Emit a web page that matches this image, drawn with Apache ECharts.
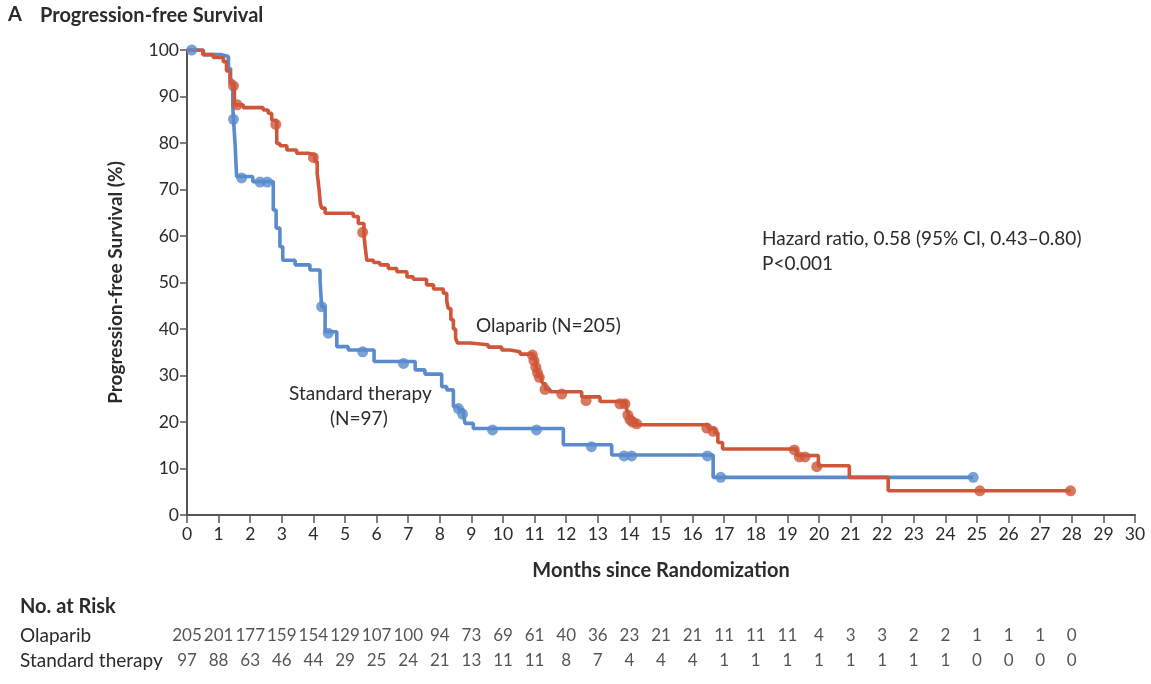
<!DOCTYPE html>
<html>
<head>
<meta charset="utf-8">
<title>Progression-free Survival</title>
<script src="https://cdn.jsdelivr.net/npm/echarts@6/dist/echarts.min.js"></script>
<style>
  html, body { margin: 0; padding: 0; background: #fff; }
  #chart { width: 1151px; height: 684px; }
</style>
</head>
<body>
<div id="chart"></div>
<script>
// 曲线数据: [月份, 生存率%], 每个点是该时间下降后的值
const olaparibSteps = [
  [0, 100], [0.5, 99.0], [0.83, 98.4], [1.15, 97.5], [1.25, 95.5], [1.36, 92.8],
  [1.5, 88.2], [1.78, 87.6], [2.41, 87.1], [2.57, 86.4], [2.68, 84.9], [2.84, 79.9],
  [2.94, 79.4], [3.16, 78.5], [3.47, 77.8], [3.84, 77.4], [4.05, 76.0], [4.12, 73.5],
  [4.18, 70.0], [4.22, 67.0], [4.26, 66.0], [4.37, 64.9], [5.26, 64.2], [5.42, 62.7],
  [5.6, 60.0], [5.65, 57.0], [5.69, 54.8], [5.9, 54.3], [6.1, 53.8], [6.37, 53.0],
  [6.64, 52.3], [6.96, 51.2], [7.16, 50.7], [7.58, 49.5], [7.8, 48.6], [8.11, 47.7],
  [8.22, 46.0], [8.27, 44.4], [8.35, 42.0], [8.43, 40.0], [8.5, 38.0], [8.56, 37.0],
  [8.96, 36.6], [9.53, 36.1], [9.96, 35.5], [10.22, 35.1], [10.54, 34.6], [10.97, 33.5],
  [11.04, 32.0], [11.09, 30.8], [11.15, 29.8], [11.22, 28.8], [11.27, 28.2], [11.35, 27.0],
  [11.49, 26.5], [12.49, 25.4], [13.07, 24.4], [13.9, 23.0], [13.95, 22.0], [14.0, 21.0],
  [14.1, 20.3], [14.23, 19.4], [16.5, 18.6], [16.7, 17.7], [16.8, 15.6], [16.95, 14.2],
  [19.29, 12.8], [19.98, 10.6], [20.96, 8.1], [22.19, 5.2], [27.96, 5.2]
];
const olaparibCensor = [
  [1.47, 92.3], [1.59, 88.2], [2.81, 84.0], [4.0, 76.9], [5.56, 60.8], [10.93, 34.4],
  [10.98, 33.2], [11.04, 31.8], [11.09, 30.6], [11.15, 29.6], [11.33, 27.0], [11.86, 26.0],
  [12.63, 24.6], [13.7, 23.9], [13.86, 23.9], [13.95, 21.5], [14.02, 20.5], [14.1, 20.0],
  [14.23, 19.6], [16.45, 18.7], [16.65, 18.0], [19.22, 14.0], [19.38, 12.5], [19.56, 12.5],
  [19.93, 10.4], [25.09, 5.2], [27.96, 5.2]
];
const standardSteps = [
  [0, 100], [0.52, 99.0], [1.1, 98.6], [1.31, 96.0], [1.38, 93.5], [1.45, 88.0],
  [1.47, 85.1], [1.52, 79.9], [1.57, 72.8], [2.08, 71.7], [2.73, 65.6], [2.82, 61.7],
  [2.94, 57.7], [3.03, 54.8], [3.42, 53.8], [3.89, 52.7], [4.21, 50.5], [4.26, 44.8],
  [4.37, 39.4], [4.74, 36.2], [5.1, 35.5], [5.92, 33.0], [7.22, 31.2], [7.53, 30.3],
  [8.06, 27.6], [8.22, 26.9], [8.43, 23.3], [8.6, 22.7], [8.75, 21.5], [8.8, 19.7],
  [9.06, 18.6], [11.91, 15.1], [13.44, 12.9], [16.65, 8.1], [24.88, 8.1]
];
const standardCensor = [
  [0.15, 100], [1.47, 85.1], [1.73, 72.5], [2.31, 71.6], [2.54, 71.6], [4.26, 44.8],
  [4.47, 39.1], [5.56, 35.1], [6.85, 32.6], [8.59, 22.9], [8.72, 21.7], [9.67, 18.3],
  [11.06, 18.3], [12.8, 14.7], [13.83, 12.7], [14.07, 12.7], [16.47, 12.7], [16.89, 8.1],
  [24.88, 8.1]
];

// 风险人数 (0~28月)
const riskMonths = [0, 1, 2, 3, 4, 5, 6, 7, 8, 9, 10, 11, 12, 13, 14, 15, 16, 17, 18, 19, 20, 21, 22, 23, 24, 25, 26, 27, 28];
const olaparibRisk = [205, 201, 177, 159, 154, 129, 107, 100, 94, 73, 69, 61, 40, 36, 23, 21, 21, 11, 11, 11, 4, 3, 3, 2, 2, 1, 1, 1, 0];
const standardRisk = [97, 88, 63, 46, 44, 29, 25, 24, 21, 13, 11, 11, 8, 7, 4, 4, 4, 1, 1, 1, 1, 1, 1, 1, 1, 0, 0, 0, 0];
const riskGroups = ["Olaparib", "Standard therapy"];

const RED = "#d0563a";
const BLUE = "#5a8bcd";
const AXIS = "#555555";
const TEXT = "#2b2b2b";
const FONT = "Lato";

function kmLine(name, data, color) {
  return {
    name: name,
    type: "line",
    step: "end",
    data: data,
    symbol: "none",
    lineStyle: { color: color, width: 3.6 },
    z: 2
  };
}

function censorDots(data, color) {
  return {
    type: "scatter",
    data: data,
    symbolSize: 11,
    itemStyle: { color: color },
    z: 3
  };
}

function riskRow(group, values) {
  return {
    type: "scatter",
    xAxisIndex: 1,
    yAxisIndex: 1,
    symbolSize: 1,
    itemStyle: { color: "transparent" },
    label: {
      show: true,
      position: "inside",
      color: TEXT,
      fontFamily: FONT,
      fontSize: 17,
      formatter: function(p) {
        return String(p.value[2]);
      }
    },
    data: riskMonths.map(function(m, i) {
      return [m, group, values[i]];
    })
  };
}

function text(x, y, str, extra) {
  return {
    type: "text",
    left: x,
    top: y,
    style: Object.assign({
      text: str,
      fill: TEXT,
      font: "19px " + FONT
    }, extra || {})
  };
}

const option = {
  animation: false,
  textStyle: { fontFamily: FONT },
  grid: [
    { left: 187, right: 16, top: 50, bottom: 169 },
    { left: 187, right: 16, top: 623, height: 50 }
  ],
  xAxis: [
    {
      type: "value",
      min: 0,
      max: 30,
      interval: 1,
      name: "Months since Randomization",
      nameLocation: "middle",
      nameGap: 46,
      nameTextStyle: { color: TEXT, fontSize: 20, fontWeight: "bold", fontFamily: FONT },
      splitLine: { show: false },
      axisLine: { lineStyle: { color: AXIS, width: 2 } },
      axisTick: { inside: false, length: 8, lineStyle: { color: AXIS, width: 1.5 } },
      axisLabel: { color: TEXT, fontSize: 17.5, margin: 10, fontFamily: FONT }
    },
    {
      gridIndex: 1,
      type: "value",
      min: 0,
      max: 30,
      show: false
    }
  ],
  yAxis: [
    {
      type: "value",
      min: 0,
      max: 100,
      interval: 10,
      name: "Progression-free Survival (%)",
      nameLocation: "middle",
      nameGap: 62,
      nameTextStyle: { color: TEXT, fontSize: 19, fontWeight: "bold", fontFamily: FONT },
      splitLine: { show: false },
      axisLine: { show: true, lineStyle: { color: AXIS, width: 2 } },
      axisTick: { show: true, length: 7, lineStyle: { color: AXIS, width: 1.5 } },
      axisLabel: { color: TEXT, fontSize: 17.5, margin: 8, fontFamily: FONT }
    },
    {
      gridIndex: 1,
      type: "category",
      data: riskGroups,
      inverse: true,
      axisLine: { show: false },
      axisTick: { show: false },
      splitLine: { show: false },
      axisLabel: { color: TEXT, fontSize: 19, align: "left", margin: 167, fontFamily: FONT }
    }
  ],
  graphic: [
    text(8, 5, "A", { font: "bold 20px " + FONT }),
    text(40, 6, "Progression-free Survival", { font: "bold 20px " + FONT }),
    text(20, 597, "No. at Risk", { font: "bold 20px " + FONT }),
    text(476, 316, "Olaparib (N=205)"),
    text(289, 384, "Standard therapy"),
    text(330, 409, "(N=97)"),
    text(762, 229, "Hazard ratio, 0.58 (95% CI, 0.43\u20130.80)"),
    text(762, 254, "P<0.001")
  ],
  series: [
    kmLine("Standard therapy", standardSteps, BLUE),
    kmLine("Olaparib", olaparibSteps, RED),
    censorDots(standardCensor, BLUE),
    censorDots(olaparibCensor, RED),
    riskRow("Olaparib", olaparibRisk),
    riskRow("Standard therapy", standardRisk)
  ]
};

const chart = echarts.init(document.getElementById("chart"));
chart.setOption(option);
</script>
</body>
</html>
